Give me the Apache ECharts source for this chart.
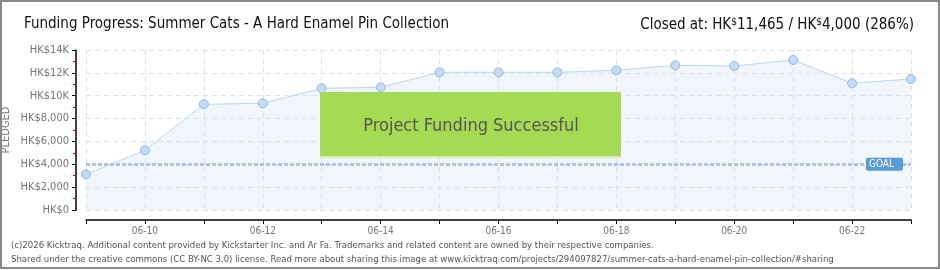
<!DOCTYPE html>
<html><head><meta charset="utf-8">
<script src="https://cdn.jsdelivr.net/npm/echarts@6/dist/echarts.min.js"></script>
<style>html,body{margin:0;padding:0;background:#fff}#c{width:940px;height:270px}</style>
</head><body><div id="c"></div>
<script>
const dates = ['06-09','06-10','06-11','06-12','06-13','06-14','06-15','06-16','06-17','06-18','06-19','06-20','06-21','06-22','06-23'];
const pledged = [3124, 5224, 9249, 9336, 10649, 10736, 12049, 12049, 12049, 12224, 12661, 12600, 13125, 11086, 11465];
const goal = 4000;
const yTickLabels = {0:'HK$0',2000:'HK$2,000',4000:'HK$4,000',6000:'HK$6,000',8000:'HK$8,000',10000:'HK$10K',12000:'HK$12K',14000:'HK$14K'};
const titleText = 'Funding Progress: Summer Cats - A Hard Enamel Pin Collection';
const footer1 = '(c)2026 Kicktraq. Additional content provided by Kickstarter Inc. and Ar Fa. Trademarks and related content are owned by their respective companies.';
const footer2 = 'Shared under the creative commons (CC BY-NC 3.0) license. Read more about sharing this image at www.kicktraq.com/projects/294097827/summer-cats-a-hard-enamel-pin-collection/#sharing';

const F = '"Liberation Sans Narrow","DejaVu Sans Condensed",sans-serif';
const chart = echarts.init(document.getElementById('c'));
chart.setOption({
  animation:false,
  backgroundColor:'#fff',
  grid:{left:86,right:29,top:50,bottom:60,outerBoundsMode:'none',containLabel:false},
  title:[
    {text:titleText,left:19,top:12,textStyle:{fontFamily:F,fontSize:15,fontWeight:'normal',color:'#111'}},
    {text:'{a|Closed at: HK}{s|$}{a|11,465 / HK}{s|$}{a|4,000 (286%)}',right:21,top:12,
     textStyle:{fontWeight:'normal',rich:{a:{fontFamily:F,fontSize:15,fontWeight:'normal',color:'#111'},s:{fontFamily:F,fontSize:10,fontWeight:'normal',color:'#111',verticalAlign:'top',padding:[0,0,6,0]}}}},
    {text:footer1,left:6,top:236,textStyle:{fontFamily:F,fontSize:9.5,fontWeight:'normal',color:'#555'}},
    {text:footer2,left:6,top:250,textStyle:{fontFamily:F,fontSize:9.5,fontWeight:'normal',color:'#555'}}
  ],
  xAxis:{type:'category',data:dates,boundaryGap:false,offset:10,
    axisLine:{onZero:false,lineStyle:{color:'#000',width:1.5}},
    axisTick:{show:true,interval:0,length:4,lineStyle:{color:'#000'}},
    axisLabel:{interval:function(i){return i%2===1;},color:'#777',fontFamily:F,fontSize:10,margin:6},
    splitLine:{show:true,interval:0,lineStyle:{color:'#e0e0e0',type:[5,4]}}
  },
  yAxis:{type:'value',min:0,max:14000,interval:2000,offset:10,position:'left',
    name:'PLEDGED',nameLocation:'middle',nameRotate:90,nameGap:64,nameMoveOverlap:false,
    nameTextStyle:{color:'#777',fontFamily:F,fontSize:11},
    axisLine:{show:true,onZero:false,lineStyle:{color:'#000',width:1.5}},
    axisTick:{show:true,length:4,lineStyle:{color:'#000'}},
    minorTick:{show:true,splitNumber:2,length:3,lineStyle:{color:'#d00'}},
    axisLabel:{formatter:v=>yTickLabels[v],color:'#777',fontFamily:F,fontSize:11,margin:7},
    splitLine:{show:true,lineStyle:{color:'#e0e0e0',type:[5,4]}}
  },
  series:[{type:'line',data:pledged,symbol:'circle',symbolSize:9,
    lineStyle:{color:'#b9d6f5',width:1},
    itemStyle:{color:'#c2dcf7',borderColor:'#94b8e0',borderWidth:1},
    areaStyle:{color:'rgba(210,228,248,0.45)'},
    markLine:{silent:true,symbol:'none',
      lineStyle:{color:'#a7c6ea',type:[4,2],width:3},
      label:{show:true,position:'insideEnd',formatter:'GOAL',color:'#fff',backgroundColor:'#5b9ad8',
        fontFamily:F,fontSize:10,padding:[2,9,1,3],borderRadius:2,distance:[8,-6]},
      data:[{yAxis:goal}]}
  }],
  graphic:[
    {type:'rect',z:100,shape:{x:320,y:92,width:301,height:66},style:{fill:'#a5db52'}},
    {type:'rect',z:100,shape:{x:320,y:156,width:301,height:2},style:{fill:'#d6ecb8'}},
    {type:'text',z:101,x:471,y:126,style:{text:'Project Funding Successful',align:'center',verticalAlign:'middle',
      font:'18px '+F,fill:'#555',textShadowColor:'#fff',textShadowOffsetX:1,textShadowOffsetY:1,textShadowBlur:0}},
    {type:'rect',z:100,shape:{x:1,y:1,width:938,height:267},style:{fill:'none',stroke:'#888',lineWidth:2}}
  ]
});
</script></body></html>
